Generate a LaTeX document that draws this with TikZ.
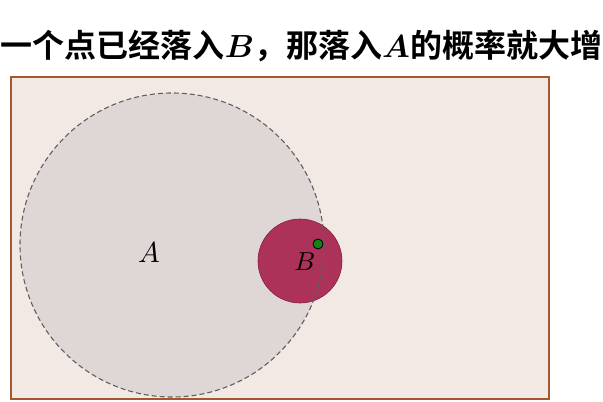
\documentclass[tikz,border=0pt]{standalone}
\usepackage{graphicx}
\usepackage{fontspec}
\usepackage{amsmath,bm}
\newfontfamily\cjk{Noto Sans CJK SC}[BoldFont={* Bold}]
\definecolor{bgfill}{RGB}{243,233,228}
\definecolor{bgedge}{RGB}{165,85,50}
\definecolor{afill}{RGB}{223,215,213}
\definecolor{aedge}{RGB}{95,95,95}
\definecolor{bfill}{RGB}{172,50,90}
\definecolor{bedge}{RGB}{135,30,65}
\definecolor{dotg}{RGB}{20,130,20}
\newcommand{\scaledmath}[2]{\scalebox{#1}{\fontsize{10}{12}\selectfont$#2$}}
\tikzset{
  frame/.style={draw=bgedge, fill=bgfill, line width=1.1pt},
  aregion/.style={circle, fill=afill, minimum size=304pt, inner sep=0pt},
  aborder/.style={circle, draw=aedge, dashed, dash pattern=on 5pt off 3pt, line width=1.1pt, minimum size=304pt, inner sep=0pt},
  bregion/.style={circle, fill=bfill, draw=bedge, line width=0.6pt, minimum size=84pt, inner sep=0pt},
  gdot/.style={circle, fill=dotg, draw=black, line width=0.8pt, minimum size=10pt, inner sep=0pt},
  lbl/.style={inner sep=0pt},
  ttl/.style={font=\fontsize{32}{34}\selectfont\cjk\bfseries, inner sep=0pt}
}
\begin{document}
\begin{tikzpicture}[x=1pt,y=-1pt]
\useasboundingbox (0,0) rectangle (603,402);
\node[ttl] (title) at (301.5,46) {一个点已经落入\scaledmath{3.2}{\bm{B}}，那落入\scaledmath{3.2}{\bm{A}}的概率就大增};
\draw[frame] (11,77) rectangle (549,399);
\node[aregion] (A) at (172,245) {};
\node[bregion] (B) at (300,261) {};
\node[aborder] (Ab) at (172,245) {};
\node[lbl] (la) at (149,253) {\scaledmath{2.9}{A}};
\node[lbl] (lb) at (305,262) {\scaledmath{2.6}{B}};
\node[gdot] (pt) at (318,244) {};
\end{tikzpicture}
\end{document}
